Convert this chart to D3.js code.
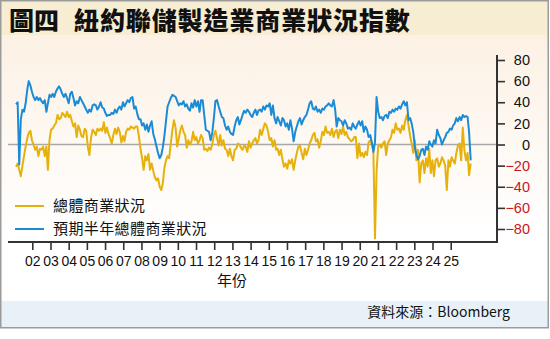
<!DOCTYPE html>
<html><head><meta charset="utf-8">
<script src="https://cdn.jsdelivr.net/npm/d3@7"></script>
<style>body{margin:0;background:#fff}svg{display:block}</style>
</head><body>
<svg id="c" width="550" height="339"></svg>
<script>
// ---- data (monthly, starting Jul 2001) ----
const startMonth = "2001-07";
const currentConditions = [
-21,-18,-24,-30,-20,-11,
-2,6,11,13,4,0,-5,-2,-11,-4,-5,-2,
-11,-2,-24,4,14,15,18,20,28,24,25,30,
28,26,31,26,28,22,17,20,7,18,14,8,
7,15,13,-2,-10,6,14,12,9,15,13,15,
13,21,11,16,10,6,1,9,15,10,16,12,
2,8,3,12,15,14,17,16,15,17,17,8,
-4,-13,-24,-11,-15,-9,-24,-18,-25,-31,-34,-32,
-40,-43,-37,-22,-15,-11,-13,1,14,23,16,-2,
6,14,18,12,9,-3,4,0,3,12,4,7,
1,4,9,6,-5,-4,-6,-3,-5,0,9,13,
6,-1,9,-1,4,-4,-5,-11,-4,-11,-15,-5,
-4,1,0,-3,-5,-1,-2,-7,3,-3,1,4,
6,1,4,14,9,15,20,18,12,4,6,-2,
4,-5,-4,-10,-5,-14,-21,-18,-23,-15,-18,-14,
-24,-15,-8,-2,-1,-8,-14,-4,-10,-5,1,4,
9,11,3,5,-3,3,12,9,17,11,12,9,
15,7,12,14,6,14,10,17,9,12,7,5,
3,4,7,7,-13,1,-11,-8,-12,-7,-10,2,
4,0,-6,-89,-25,-2,0,-3,1,3,-10,1,
4,7,14,11,20,14,15,11,18,14,23,28,
18,8,1,-8,4,-15,-5,-36,-18,-15,-27,-13,
-21,-4,-27,-15,-30,-15,-13,-21,-18,-12,-15,-20,
-43,-15,-21,-12,-15,-18,-8,-1,1,-15,16,-5,
-15,-8,-29,-18
];
const sixMonthOutlook = [
38,40,-19,24,33,31,
39,52,60,56,50,45,42,45,42,44,41,39,
42,31,39,47,45,48,45,50,53,55,52,48,
45,48,44,39,48,50,44,37,41,39,45,42,
39,36,33,30,33,31,37,38,37,33,36,40,
35,34,30,27,28,28,30,29,33,30,34,36,
33,40,36,39,42,40,44,45,34,36,29,24,
24,18,20,14,19,12,18,22,10,5,-2,-8,
-13,-10,-3,8,22,36,40,44,47,46,45,41,
37,39,38,41,36,38,34,32,39,35,42,36,
41,31,42,42,28,14,13,12,4,11,25,41,
42,36,31,26,25,18,14,17,12,10,9,17,
23,26,19,23,28,32,30,33,31,28,26,30,
33,28,32,33,31,36,33,37,36,39,28,37,
25,20,26,22,18,25,23,17,20,14,23,15,
3,12,17,22,25,19,23,26,28,33,39,41,
34,33,36,31,33,30,34,33,36,37,39,37,
36,42,34,17,25,23,22,18,23,20,15,16,
14,20,17,15,19,22,18,22,12,17,14,7,
9,2,-7,2,45,31,25,26,23,27,28,25,
31,30,33,31,34,33,36,34,38,41,37,40,
23,25,20,12,-2,-10,-14,-11,-5,-4,-10,-2,
-5,3,0,-2,4,1,14,9,6,0,4,7,
11,12,15,14,18,20,25,22,26,23,28,26,
27,26,12,-15
];
const yearLabels = ["02","03","04","05","06","07","08","09","10","11","12","13","14","15","16","17","18","19","20","21","22","23","24","25"];
const yTickValues = [80,60,40,20,0,-20,-40,-60,-80];
const seriesNames = ["總體商業狀況","預期半年總體商業狀況"];
const titleLead = "圖四";
const titleMain = "紐約聯儲製造業商業狀況指數";
const xAxisTitle = "年份";
const sourceText = "資料來源：Bloomberg";

// ---- layout ----
const svg = d3.select("#c");
const W = 550;
const colYellow = "#e6b10c", colBlue = "#1b8bd6", colRed = "#c8171e";
const cjk = "'Noto Sans CJK TC','Noto Sans CJK SC',sans-serif";
const latin = "'Liberation Sans',Arial,sans-serif";

const parse = d3.timeParse("%Y-%m");
const dates = currentConditions.map((_, i) => d3.timeMonth.offset(parse(startMonth), i));

const x = d3.scaleTime().domain([dates[0], dates[dates.length - 1]]).range([16, 470.7]);
const xYears = d3.scalePoint().domain(yearLabels).range([32.3, 450.7]);
const y = d3.scaleLinear().domain([-80, 80]).range([229, 60]);

const defs = svg.append("defs");
const g1 = defs.append("linearGradient").attr("id","bg").attr("x1",0).attr("y1",0).attr("x2",0).attr("y2",1);
g1.append("stop").attr("offset","0%").attr("stop-color","#fcf1e4");
g1.append("stop").attr("offset","75%").attr("stop-color","#ffffff");
g1.append("stop").attr("offset","100%").attr("stop-color","#ffffff");

// panels
svg.append("rect").attr("x",1).attr("y",35).attr("width",547).attr("height",267).attr("fill","url(#bg)");
svg.append("rect").attr("x",1).attr("y",1).attr("width",547).attr("height",34).attr("fill","#f7edd2");
svg.append("rect").attr("x",1).attr("y",301).attr("width",547).attr("height",26.5).attr("fill","#e8f1f8");
svg.append("rect").attr("x",0.75).attr("y",0.75).attr("width",547.5).attr("height",327).attr("fill","none").attr("stroke","#9b9b9b").attr("stroke-width",1.5);

// title
svg.append("text").attr("x",9).attr("y",30).attr("font-family",cjk).attr("font-weight",900)
  .attr("font-size",25).attr("fill","#111").text(titleLead);
svg.append("text").attr("x",74).attr("y",30).attr("font-family",cjk).attr("font-weight",900)
  .attr("font-size",25).attr("letter-spacing",0.9).attr("fill","#111").text(titleMain);

// zero line
svg.append("line").attr("x1",8).attr("x2",497).attr("y1",y(0)).attr("y2",y(0))
  .attr("stroke","#a8a8a8").attr("stroke-width",1.3);

// series
const line = d3.line().x((d,i) => x(dates[i])).y(d => y(d)).curve(d3.curveLinear);
svg.append("path").datum(currentConditions).attr("d",line).attr("fill","none")
  .attr("stroke",colYellow).attr("stroke-width",2).attr("stroke-linejoin","round");
svg.append("path").datum(sixMonthOutlook).attr("d",line).attr("fill","none")
  .attr("stroke",colBlue).attr("stroke-width",2).attr("stroke-linejoin","round");

// y axis (right)
const yAxis = d3.axisRight(y).tickValues(yTickValues).tickSize(8).tickPadding(25).tickFormat(d3.format("d"));
const ya = svg.append("g").attr("transform","translate(497,0)").call(yAxis);
ya.select(".domain").remove();
ya.selectAll(".tick line").attr("stroke","#333").attr("stroke-width",1.6);
ya.selectAll(".tick text").attr("text-anchor","end").attr("font-family",latin).attr("font-size",14.5)
  .attr("fill", d => d < 0 ? colRed : "#111");
svg.append("line").attr("x1",497).attr("x2",497).attr("y1",55).attr("y2",243)
  .attr("stroke","#333").attr("stroke-width",2);

// x axis
const xAxis = d3.axisBottom(xYears).tickSize(8).tickPadding(6);
const xa = svg.append("g").attr("transform","translate(0,242)").call(xAxis);
xa.select(".domain").remove();
xa.selectAll(".tick line").attr("stroke","#333").attr("stroke-width",1.6);
xa.selectAll(".tick text").attr("font-family","'Liberation Sans Narrow','Arial Narrow',"+latin)
  .attr("font-size",14).attr("fill","#111");
svg.append("line").attr("x1",8).attr("x2",498).attr("y1",242).attr("y2",242)
  .attr("stroke","#333").attr("stroke-width",2);

svg.append("text").attr("x",232).attr("y",286).attr("text-anchor","middle").attr("font-family",cjk)
  .attr("font-size",15).attr("fill","#111").text(xAxisTitle);

// legend
const legend = svg.append("g");
[colYellow, colBlue].forEach((c, i) => {
  const ly = 206 + i * 23;
  legend.append("line").attr("x1",15).attr("x2",44).attr("y1",ly).attr("y2",ly)
    .attr("stroke",c).attr("stroke-width",2);
  legend.append("text").attr("x",53).attr("y",ly).attr("dy","0.36em").attr("font-family",cjk)
    .attr("font-size",15).attr("letter-spacing",0.4).attr("fill","#111").text(seriesNames[i]);
});

// source
svg.append("text").attr("x",510).attr("y",312).attr("dy","0.36em").attr("text-anchor","end")
  .attr("font-family",cjk).attr("font-size",14).attr("fill","#111").text(sourceText);
</script>
</body></html>
